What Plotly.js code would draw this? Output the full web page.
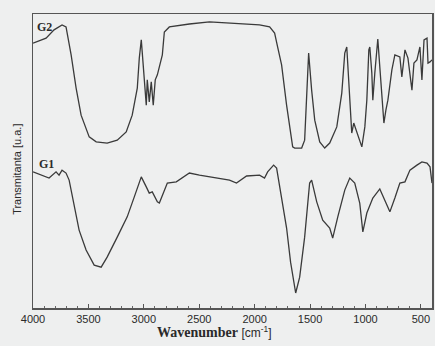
<!DOCTYPE html>
<html>
<head>
<meta charset="utf-8">
<script src="https://cdn.plot.ly/plotly-3.0.1.min.js"></script>
<style>html,body{margin:0;padding:0;background:#eeefef;}#chart{width:435px;height:346px;}</style>
</head>
<body>
<div id="chart"></div>
<script>
// Wavenumber (cm-1) and transmittance (a.u., offset for stacking)
const g2Wavenumber = [4000,3882,3810,3738,3702,3656,3611,3566,3493,3430,3331,3240,3159,3105,3059,3041,3023,2996,2978,2969,2951,2933,2915,2897,2878,2833,2815,2770,2589,2408,2200,1956,1865,1820,1793,1757,1712,1685,1657,1639,1576,1549,1531,1513,1486,1458,1413,1368,1323,1259,1214,1187,1169,1160,1142,1124,1106,1079,1033,1006,988,970,961,943,934,916,889,871,852,834,816,798,762,735,690,672,644,617,581,563,536,509,491,472,445,436,418,400];
const g2Transmittance = [90.1,91.8,94.6,96.3,95.6,86.1,74.8,65.6,58.2,56.5,56.1,57.1,59.9,65.6,74.8,85.0,91.2,75.9,69.0,77.6,70.1,76.9,69.0,77.6,79.3,86.1,93.9,95.6,96.6,97.3,96.9,96.3,95.6,93.5,88.8,82.7,69.0,61.6,54.8,54.4,54.4,57.1,70.7,86.7,74.1,63.9,56.5,54.4,56.1,61.6,73.1,86.7,88.8,82.0,70.7,59.5,62.9,59.9,54.8,61.6,70.7,87.8,88.8,79.9,70.7,79.9,91.5,82.0,70.7,62.9,67.3,70.7,81.0,86.1,85.4,78.6,87.8,85.0,74.1,83.3,84.4,88.8,77.6,91.2,91.8,83.3,83.7,84.4];
const g1Wavenumber = [4000,3928,3855,3792,3765,3738,3702,3674,3629,3584,3521,3448,3385,3331,3240,3150,3086,3023,2978,2951,2924,2878,2860,2833,2788,2707,2589,2498,2408,2227,2164,2073,1956,1911,1883,1829,1802,1757,1712,1676,1630,1594,1549,1504,1486,1440,1386,1323,1296,1250,1187,1142,1097,1052,1024,988,934,871,825,780,735,690,644,599,536,491,445,418,400];
const g1Transmittance = [46.3,45.2,44.2,46.3,45.2,46.9,45.9,43.5,34.4,26.5,19.7,14.6,13.9,17.3,24.1,31.0,37.8,44.6,41.2,39.1,39.5,36.1,35.7,38.4,42.5,42.9,45.9,45.2,44.6,43.5,42.5,44.9,45.2,44.2,46.3,48.6,47.6,36.7,27.2,15.6,5.1,10.5,24.1,42.5,43.5,36.1,29.9,27.2,23.8,31.0,40.1,44.2,42.5,35.7,25.9,32.3,37.4,40.5,36.7,32.7,37.4,42.5,42.9,46.9,48.6,49.7,49.3,48.0,42.5];
const seriesNames = ["G2","G1"];
const xTickValues = [4000,3500,3000,2500,2000,1500,1000,500];
const xTickLabels = ["4000","3500","3000","2500","2000","1500","1000","500"];

const lineStyle = {color:"#3a3a3a", width:1.3};
const traces = [
  {x:g2Wavenumber, y:g2Transmittance, name:seriesNames[0], mode:"lines", line:lineStyle},
  {x:g1Wavenumber, y:g1Transmittance, name:seriesNames[1], mode:"lines", line:lineStyle}
];

const layout = {
  width:435, height:346,
  margin:{l:33, r:3, t:14, b:38},
  paper_bgcolor:"#eeefef", plot_bgcolor:"#eeefef",
  showlegend:false,
  font:{family:"Liberation Sans, Arial, sans-serif", color:"#2a2a2a"},
  xaxis:{
    range:[4000,400], autorange:false,
    tickvals:xTickValues, ticktext:xTickLabels,
    ticks:"inside", ticklen:4, tickcolor:"#555", tickwidth:1,
    minor:{dtick:100, ticks:"inside", ticklen:2, tickcolor:"#666", tickwidth:1},
    tickfont:{size:11, family:"Liberation Sans, Arial, sans-serif", color:"#2a2a2a"},
    showgrid:false, zeroline:false,
    showline:true, linecolor:"#555", linewidth:1.5, mirror:true
  },
  yaxis:{
    range:[0,100], autorange:false,
    showticklabels:false, ticks:"", showgrid:false, zeroline:false,
    showline:true, linecolor:"#555", linewidth:1.5, mirror:true
  },
  annotations:[
    {text:"<b>"+seriesNames[0]+"</b>", xref:"paper", yref:"paper", x:0.005, y:0.985, xanchor:"left", yanchor:"top", showarrow:false, font:{family:"Liberation Serif, Times New Roman, serif", size:12, color:"#2a2a2a"}},
    {text:"<b>"+seriesNames[1]+"</b>", xref:"paper", yref:"paper", x:0.01, y:0.52, xanchor:"left", yanchor:"top", showarrow:false, font:{family:"Liberation Serif, Times New Roman, serif", size:12, color:"#2a2a2a"}},
    {text:"<b>Wavenumber</b> <span style='font-family:Liberation Sans, Arial, sans-serif;font-size:12px'>[cm<sup>-1</sup>]</span>", xref:"paper", yref:"paper", x:0.455, y:-0.08, xanchor:"center", yanchor:"middle", showarrow:false, font:{family:"Liberation Serif, Times New Roman, serif", size:14, color:"#2a2a2a"}},
    {text:"Transmitanta [u.a.]", xref:"paper", yref:"paper", x:-0.04, y:0.47, xanchor:"center", yanchor:"middle", textangle:-90, showarrow:false, font:{family:"Liberation Sans Narrow, Arial Narrow, sans-serif", size:11, color:"#2a2a2a"}}
  ]
};

Plotly.newPlot("chart", traces, layout, {displayModeBar:false, staticPlot:true});
</script>
</body>
</html>
